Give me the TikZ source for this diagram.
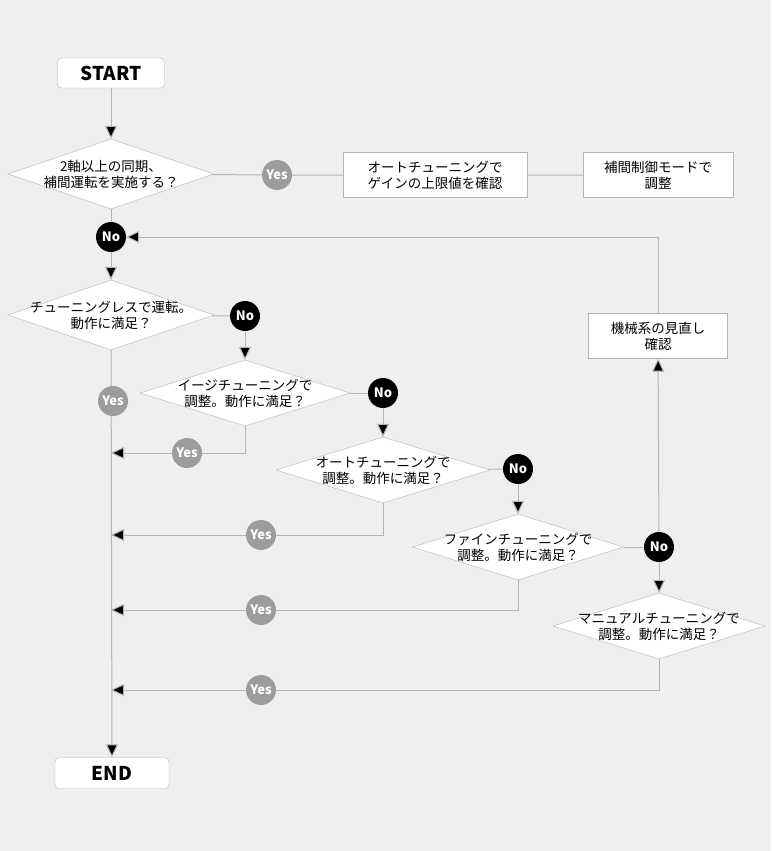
\documentclass[tikz,border=0pt]{standalone}
\usepackage{fontspec}
\setmainfont{Noto Sans CJK JP}
\usetikzlibrary{shapes.geometric,arrows.meta}
\definecolor{bg}{HTML}{EEEFEE}
\definecolor{ln}{HTML}{B4B4B4}
\definecolor{yes}{HTML}{9C9C9C}
\tikzset{
 dia/.style={diamond,draw=ln,fill=white,inner sep=0pt,minimum width=#1},
 txt/.style={align=center,font=\fontsize{13.5}{16}\selectfont,inner sep=0pt},
 box/.style={draw=ln,fill=white,align=center,font=\fontsize{13.5}{16}\selectfont},
 term/.style={draw=ln,fill=white,rounded corners=4pt,font=\bfseries\fontsize{19}{22}\selectfont},
 yesc/.style={circle,fill=yes,text=white,inner sep=0pt,minimum size=30pt,font=\bfseries\fontsize{13}{15}\selectfont},
 noc/.style={circle,fill=black,text=white,inner sep=0pt,minimum size=30pt,font=\bfseries\fontsize{13}{15}\selectfont},
 con/.style={draw=ln,line width=1pt},
 arr/.style={con,-{Triangle[fill=black,length=13pt,width=12pt]}},
}
\begin{document}
\begin{tikzpicture}[x=1pt,y=-1pt]
\fill[bg] (0,0) rectangle (771,851);
\useasboundingbox (0,0) rectangle (771,851);
\node[term,minimum width=107pt,minimum height=30pt] (start) at (111,73) {START};
\node[term,minimum width=114pt,minimum height=31pt] (end) at (112,773) {END};
% diamonds
\node[dia=206pt,minimum height=70pt] (d1) at (111,174) {};
\node[txt] at (d1) {2軸以上の同期、\\補間運転を実施する？};
\node[dia=206pt,minimum height=70pt] (d2) at (111,315) {};
\node[txt] at (d2) {チューニングレスで運転。\\動作に満足？};
\node[dia=210pt,minimum height=66pt] (d3) at (245,393) {};
\node[txt] at (d3) {イージチューニングで\\調整。動作に満足？};
\node[dia=214pt,minimum height=66pt] (d4) at (383,470) {};
\node[txt] at (d4) {オートチューニングで\\調整。動作に満足？};
\node[dia=211pt,minimum height=66pt] (d5) at (518,547) {};
\node[txt] at (d5) {ファインチューニングで\\調整。動作に満足？};
\node[dia=212pt,minimum height=66pt] (d6) at (659,626) {};
\node[txt] at (d6) {マニュアルチューニングで\\調整。動作に満足？};
% boxes
\node[box,minimum width=184pt,minimum height=45pt] (ba) at (435,175) {オートチューニングで\\ゲインの上限値を確認};
\node[box,minimum width=150pt,minimum height=45pt] (bb) at (658,175) {補間制御モードで\\調整};
\node[box,minimum width=139pt,minimum height=45pt] (bm) at (658,336) {機械系の見直し\\確認};
% circles
\node[noc] (n1) at (111,237) {No};
\node[noc] (n2) at (245,316) {No};
\node[noc] (n3) at (383,393) {No};
\node[noc] (n4) at (518,469) {No};
\node[noc] (n5) at (659,547) {No};
\node[yesc] (y1) at (277,175) {Yes};
\coordinate (m2) at (111,453);
\coordinate (m3) at (111,535);
\coordinate (m4) at (111,610);
\coordinate (m5) at (111,690);
\coordinate (top) at (658,237);
% connectors
\draw[arr] (start) -- (d1);
\draw[con] (d1) -- (y1) -- (ba) -- (bb);
\draw[con] (d1) -- (n1);
\draw[arr] (n1) -- (d2);
\draw[con] (d2) -- (n2);
\draw[arr] (n2) -- (d3);
\draw[con] (d3) -- (n3);
\draw[arr] (n3) -- (d4);
\draw[con] (d4) -- (n4);
\draw[arr] (n4) -- (d5);
\draw[con] (d5) -- (n5);
\draw[arr] (n5) -- (d6);
\draw[arr] (n5) -- (bm);
\draw[con] (bm) -- (top);
\draw[arr] (top) -- (n1);
\draw[arr] (d2) -- (end);
\draw[arr] (d3.south) |- (m2);
\draw[arr] (d4.south) |- (m3);
\draw[arr] (d5.south) |- (m4);
\draw[arr] (d6.south) |- (m5);
\node[yesc] at (113,401) {Yes};
\node[yesc] at (187,453) {Yes};
\node[yesc] at (261,535) {Yes};
\node[yesc] at (261,610) {Yes};
\node[yesc] at (261,690) {Yes};
\end{tikzpicture}
\end{document}
